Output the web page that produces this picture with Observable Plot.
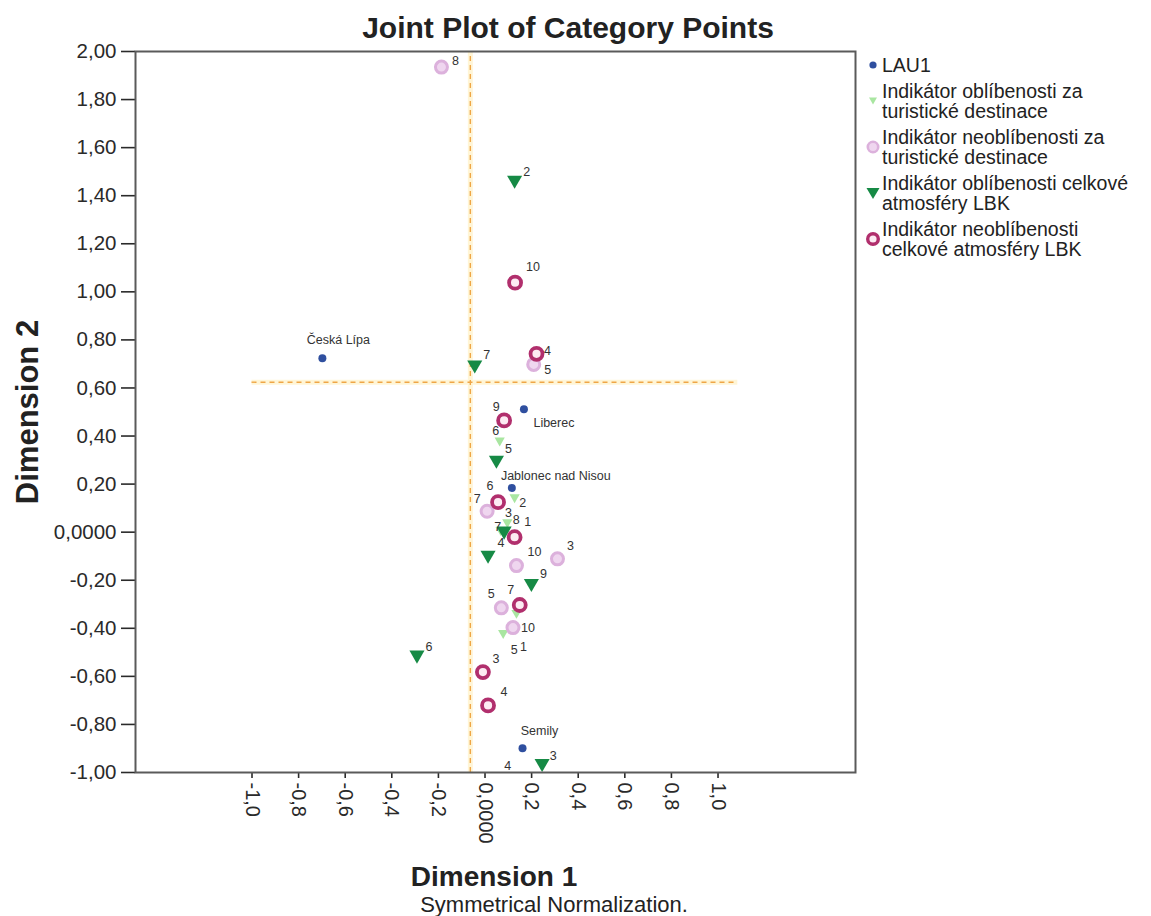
<!DOCTYPE html>
<html>
<head>
<meta charset="utf-8">
<script src="https://cdn.jsdelivr.net/npm/d3@7"></script>
<script src="https://cdn.jsdelivr.net/npm/@observablehq/plot@0.6"></script>
<style>
  body { margin: 0; background: #fff; font-family: "Liberation Sans", Arial, sans-serif; color: #222; }
  #chart { position: relative; width: 1151px; height: 916px; overflow: hidden; background: #fff; }
  #chart svg.plot { position: absolute; left: 0; top: 0; }
  .abs { position: absolute; white-space: nowrap; }
  .title { font-weight: bold; font-size: 30px; line-height: 30px; }
  .axis-title { font-weight: bold; font-size: 28px; line-height: 24px; }
  .axis-title.vertical { font-size: 31px; line-height: 28px; }
  .note { font-size: 22px; line-height: 19px; }
  .legend { font-size: 19.5px; line-height: 20.5px; color: #222; }
  .legend .entry { display: flex; align-items: center; margin-bottom: 5px; }
  .legend .entry svg { flex: none; width: 18px; height: 18px; margin-left: -9px; margin-right: 0px; }
</style>
</head>
<body>
<div id="chart"></div>
<script>
// ---- category coordinates (Dimension 1, Dimension 2) ----
const lau1Names = ["Česká Lípa", "Liberec", "Jablonec nad Nisou", "Semily"];
const lau1Dim1  = [-0.698, 0.167, 0.115, 0.161];
const lau1Dim2  = [0.724, 0.511, 0.184, -0.899];

const turOblCats = ["6", "2", "3", "7", "1", "5", "4"];
const turOblDim1 = [0.063, 0.127, 0.096, 0.067, 0.135, 0.078, 0.046];
const turOblDim2 = [0.375, 0.139, 0.035, 0.003, -0.342, -0.426, -1.025];

const turNeoblCats = ["8", "5", "7", "3", "10", "5", "10"];
const turNeoblDim1 = [-0.187, 0.209, 0.009, 0.311, 0.135, 0.070, 0.120];
const turNeoblDim2 = [1.935, 0.698, 0.087, -0.111, -0.139, -0.315, -0.397];

const atmOblCats = ["2", "7", "5", "8", "4", "9", "6", "3"];
const atmOblDim1 = [0.127, -0.044, 0.049, 0.082, 0.013, 0.199, -0.292, 0.245];
const atmOblDim2 = [1.456, 0.687, 0.291, -0.004, -0.104, -0.222, -0.520, -0.971];

const atmNeoblCats = ["10", "4", "9", "6", "1", "7", "3", "4"];
const atmNeoblDim1 = [0.129, 0.221, 0.082, 0.056, 0.127, 0.149, -0.009, 0.013];
const atmNeoblDim2 = [1.038, 0.742, 0.465, 0.125, -0.021, -0.303, -0.582, -0.721];

// centroid reference lines
const refLineX = [-0.063];
const refLineY = [0.624];
const refLineYExtent = [-1.0, 1.085];

// axis ticks
const xTickValues = [-1, -0.8, -0.6, -0.4, -0.2, 0, 0.2, 0.4, 0.6, 0.8, 1];
const xTickLabels = ["-1,0", "-0,8", "-0,6", "-0,4", "-0,2", "0,0000", "0,2", "0,4", "0,6", "0,8", "1,0"];
const yTickValues = [-1, -0.8, -0.6, -0.4, -0.2, 0, 0.2, 0.4, 0.6, 0.8, 1, 1.2, 1.4, 1.6, 1.8, 2];
const yTickLabels = ["-1,00", "-0,80", "-0,60", "-0,40", "-0,20", "0,0000", "0,20", "0,40", "0,60", "0,80",
                     "1,00", "1,20", "1,40", "1,60", "1,80", "2,00"];

const seriesNames = [
  "LAU1",
  "Indikátor oblíbenosti za turistické destinace",
  "Indikátor neoblíbenosti za turistické destinace",
  "Indikátor oblíbenosti celkové atmosféry LBK",
  "Indikátor neoblíbenosti celkové atmosféry LBK"
];

// ---- label placement (pixel offsets of each point label from its marker) ----
const lau1LabelOffset    = [[16, -18], [30, 14], [44, -12], [17, -17]];
const turOblLabelOffset  = [[-4, -11], [8, 4], [1, -11], [-3, -4], [7, 33], [11, 15], [12, -13]];
const turNeoblLabelOffset = [[14, -6], [14, 6], [-10, -12], [13, -13], [18, -14], [-10, -14], [15, 0]];
const atmOblLabelOffset  = [[12, -10], [12, -12], [12, -13], [12, -13], [13, -14], [12, -12], [12, -10], [11, -10]];
const atmNeoblLabelOffset = [[18, -16], [11, -3], [-8, -13], [-8, -16], [13, -15], [-9, -15], [13, -13], [16, -13]];

// ---- layout ----
const W = 1151, H = 916;
const M = {top: 51, right: 296, bottom: 144, left: 135};
const xDomain = [-1.5, 1.59], yDomain = [-1, 2];
const xs = d3.scaleLinear(xDomain, [M.left, W - M.right]);
const ys = d3.scaleLinear(yDomain, [H - M.bottom, M.top]);

const rows = (cats, d1, d2, offs) =>
  cats.map((c, i) => ({label: c, x: d1[i], y: d2[i], ox: offs[i][0], oy: offs[i][1]}));

const lau1 = rows(lau1Names, lau1Dim1, lau1Dim2, lau1LabelOffset);
const turObl = rows(turOblCats, turOblDim1, turOblDim2, turOblLabelOffset);
const turNeobl = rows(turNeoblCats, turNeoblDim1, turNeoblDim2, turNeoblLabelOffset);
const atmObl = rows(atmOblCats, atmOblDim1, atmOblDim2, atmOblLabelOffset);
const atmNeobl = rows(atmNeoblCats, atmNeoblDim1, atmNeoblDim2, atmNeoblLabelOffset);
const allLabels = [...lau1, ...turObl, ...turNeobl, ...atmObl, ...atmNeobl];

// downward triangle centred on its bounding box
const triangleDown = {
  draw(context, size) {
    const h = Math.sqrt(size / (3 * Math.sqrt(3)));
    const w = Math.sqrt(3) * h;
    context.moveTo(0, 1.5 * h);
    context.lineTo(w, -1.5 * h);
    context.lineTo(-w, -1.5 * h);
    context.closePath();
  }
};

const STYLE = {
  lau1: {fill: "#2f4f9f"},
  turObl: {fill: "#a9e6a1"},
  turNeobl: {fill: "#efd6ef", stroke: "#dcb1dc"},
  atmObl: {fill: "#168a45"},
  atmNeobl: {fill: "#fdebf3", stroke: "#b12f6d"},
  ref: "#efa646"
};

const xLabelOf = new Map(xTickValues.map((v, i) => [v, xTickLabels[i]]));
const yLabelOf = new Map(yTickValues.map((v, i) => [v, yTickLabels[i]]));

const plot = Plot.plot({
  width: W,
  height: H,
  marginTop: M.top,
  marginRight: M.right,
  marginBottom: M.bottom,
  marginLeft: M.left,
  style: {fontFamily: '"Liberation Sans", Arial, sans-serif', background: "transparent", color: "#222"},
  x: {domain: xDomain},
  y: {domain: yDomain},
  marks: [
    // soft band and dashed centroid lines
    Plot.ruleX(refLineX, {y1: yDomain[0], y2: yDomain[1], stroke: "#fff5d6", strokeWidth: 5}),
    Plot.ruleY(refLineY, {x1: refLineYExtent[0], x2: refLineYExtent[1], stroke: "#fff5d6", strokeWidth: 5}),
    Plot.ruleX(refLineX, {y1: yDomain[0], y2: yDomain[1], stroke: STYLE.ref, strokeWidth: 1.4, strokeDasharray: "5,4"}),
    Plot.ruleY(refLineY, {x1: refLineYExtent[0], x2: refLineYExtent[1], stroke: STYLE.ref, strokeWidth: 1.4, strokeDasharray: "5,4"}),

    // category points
    Plot.dot(lau1, {x: "x", y: "y", r: 4, fill: STYLE.lau1.fill, clip: true}),
    Plot.dot(turObl, {x: "x", y: "y", r: 3.8, symbol: triangleDown, fill: STYLE.turObl.fill, clip: true}),
    Plot.dot(turNeobl, {x: "x", y: "y", r: 6, fill: STYLE.turNeobl.fill, stroke: STYLE.turNeobl.stroke, strokeWidth: 3, clip: true}),
    Plot.dot(atmObl, {x: "x", y: "y", r: 5.6, symbol: triangleDown, fill: STYLE.atmObl.fill, clip: true}),
    Plot.dot(atmNeobl, {x: "x", y: "y", r: 6, fill: STYLE.atmNeobl.fill, stroke: STYLE.atmNeobl.stroke, strokeWidth: 3.8, clip: true}),

    // point labels, nudged in pixel space
    Plot.text(allLabels, {
      x: d => xs.invert(xs(d.x) + d.ox),
      y: d => ys.invert(ys(d.y) + d.oy),
      text: "label",
      fontSize: 12.5,
      fill: "#333",
      textAnchor: "middle"
    }),

    // axes
    Plot.axisX({
      ticks: xTickValues,
      tickFormat: d => xLabelOf.get(d) ?? String(d),
      tickRotate: 90,
      tickSize: 6,
      tickPadding: 4,
      fontSize: 20,
      strokeWidth: 1.6,
      color: "#2a2a2a",
      label: null
    }),
    Plot.axisY({
      ticks: yTickValues,
      tickFormat: d => yLabelOf.get(d) ?? String(d),
      tickSize: 14,
      tickPadding: 5,
      fontSize: 20.5,
      strokeWidth: 1.6,
      color: "#2a2a2a",
      label: null
    }),
    Plot.frame({stroke: "#5a5a5a", strokeWidth: 2})
  ]
});

const chart = document.getElementById("chart");
chart.appendChild(plot);

function addText(cls, text, left, top, transform) {
  const el = document.createElement("div");
  el.className = "abs " + cls;
  el.textContent = text;
  el.style.left = left + "px";
  el.style.top = top + "px";
  if (transform) el.style.transform = transform;
  chart.appendChild(el);
  return el;
}

addText("title", "Joint Plot of Category Points", 568, 28, "translate(-50%, -50%)");
addText("axis-title", "Dimension 1", 494, 877, "translate(-50%, -50%)");
addText("note", "Symmetrical Normalization.", 554, 904, "translate(-50%, -50%)");
addText("axis-title vertical", "Dimension 2", 28, 412, "translate(-50%, -50%) rotate(-90deg)");

// legend
const legendMarks = [
  `<circle cx="9" cy="9" r="3.6" fill="${STYLE.lau1.fill}"/>`,
  `<path d="M9,12.5 L13,5.5 L5,5.5 Z" fill="${STYLE.turObl.fill}"/>`,
  `<circle cx="9" cy="9" r="5.2" fill="${STYLE.turNeobl.fill}" stroke="${STYLE.turNeobl.stroke}" stroke-width="2.6"/>`,
  `<path d="M9,15 L15.5,4 L2.5,4 Z" fill="${STYLE.atmObl.fill}"/>`,
  `<circle cx="9" cy="9" r="5.3" fill="${STYLE.atmNeobl.fill}" stroke="${STYLE.atmNeobl.stroke}" stroke-width="3.4"/>`
];
const legendLines = [
  ["LAU1"],
  ["Indikátor oblíbenosti za", "turistické destinace"],
  ["Indikátor neoblíbenosti za", "turistické destinace"],
  ["Indikátor oblíbenosti celkové", "atmosféry LBK"],
  ["Indikátor neoblíbenosti", "celkové atmosféry LBK"]
];
const legend = document.createElement("div");
legend.className = "abs legend";
legend.style.left = "873px";
legend.style.top = "55px";
legend.setAttribute("aria-label", seriesNames.join("; "));
legendLines.forEach((lines, i) => {
  const entry = document.createElement("div");
  entry.className = "entry";
  entry.innerHTML = `<svg viewBox="0 0 18 18">${legendMarks[i]}</svg><div>${lines.join("<br>")}</div>`;
  legend.appendChild(entry);
});
chart.appendChild(legend);
</script>
</body>
</html>
